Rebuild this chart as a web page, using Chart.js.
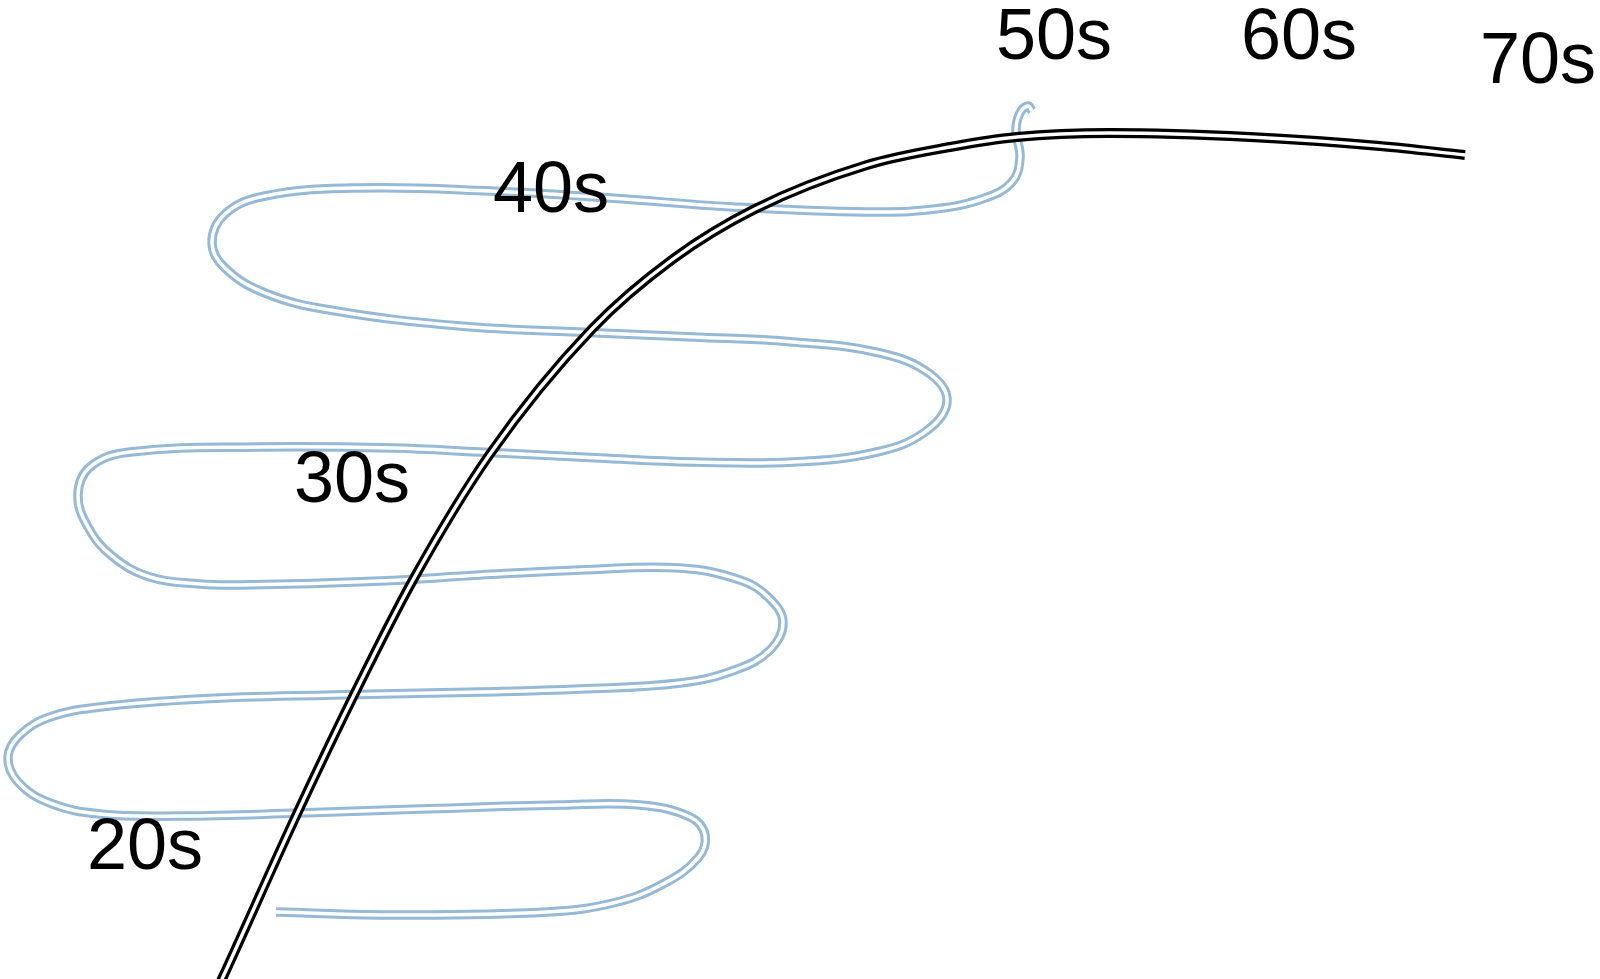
<!DOCTYPE html>
<html>
<head>
<meta charset="utf-8">
<script src="https://cdn.jsdelivr.net/npm/chart.js@4.4.1/dist/chart.umd.min.js"></script>
<style>
html,body{margin:0;padding:0;background:#fff;}
#wrap{width:1600px;height:979px;position:relative;}
</style>
</head>
<body>
<div id="wrap"><canvas id="c"></canvas></div>
<script>
// Light blue snaking path
const blueX = [27.6,40.0,54.7,61.3,66.3,69.8,70.5,69.0,64.0,56.0,42.0,30.0,18.0,10.0,5.0,1.8,0.8,2.0,5.0,10.0,20.0,33.3,48.0,58.0,68.0,73.5,77.0,78.3,76.8,74.0,68.0,58.0,48.0,38.0,24.0,20.0,15.0,11.2,8.8,7.8,9.0,13.0,26.0,39.3,48.0,60.0,69.3,79.3,87.7,92.5,94.7,93.0,88.0,79.3,69.3,60.0,46.0,33.0,26.5,22.5,21.2,22.5,26.5,35.7,49.0,61.0,73.3,86.7,93.5,98.5,101.2,102.0,101.6,102.0,102.8,103.2];
const blueY = [6.7,6.4,6.7,7.6,9.5,12.1,14.4,16.2,17.4,17.4,17.0,16.6,16.3,16.5,17.6,19.7,22.2,24.4,26.2,27.2,28.0,28.4,28.7,29.0,29.6,30.9,32.9,35.7,38.2,39.9,41.1,40.9,40.4,39.8,39.4,39.5,40.2,42.3,45.2,48.4,51.2,52.7,53.2,53.1,52.7,52.1,51.7,51.7,52.7,54.7,57.7,60.5,62.6,63.7,64.2,64.6,65.3,66.9,68.6,71.1,73.6,76.5,78.3,79.1,78.8,78.1,77.2,76.7,77.0,78.1,79.7,82.1,84.9,86.6,87.3,86.8];

// Black arching curve
const blackX = [21.4,22.2,29.6,35.2,41.3,49.0,59.2,67.3,75.5,86.7,95.0,101.7,111.0,125.0,138.0,146.5];
const blackY = [-1.7,0.0,16.3,28.0,39.9,52.5,65.0,72.0,77.0,81.4,83.2,84.2,84.6,84.2,83.3,82.4];

// Text labels
const labelText = ['20s','30s','40s','50s','60s','70s'];
const labelX = [14.5,35.2,55.1,105.4,129.9,153.8];
const labelY = [11.0,47.7,76.7,92.0,92.0,89.6];

const toPts = (xs, ys) => xs.map((x, i) => ({x: x, y: ys[i]}));
const bluePts = toPts(blueX, blueY);
const blackPts = toPts(blackX, blackY);

const BLUE = 'rgb(150,185,213)';

const labelPlugin = {
  id: 'labels',
  afterDatasetsDraw(chart) {
    const ctx = chart.ctx;
    const sx = chart.scales.x, sy = chart.scales.y;
    ctx.save();
    ctx.fillStyle = '#000';
    ctx.font = '72px "Liberation Sans", Arial, sans-serif';
    ctx.textAlign = 'center';
    ctx.textBaseline = 'alphabetic';
    labelText.forEach((t, i) => {
      ctx.fillText(t, sx.getPixelForValue(labelX[i]), sy.getPixelForValue(labelY[i]));
    });
    ctx.restore();
  }
};

const blueBase = {pointRadius: 0, pointHoverRadius: 0, fill: false, tension: 0.4,
              borderCapStyle: 'butt', borderJoinStyle: 'round', clip: false};
const blackBase = {pointRadius: 0, pointHoverRadius: 0, fill: false, cubicInterpolationMode: 'monotone',
              borderCapStyle: 'butt', borderJoinStyle: 'round', clip: false};

new Chart(document.getElementById('c'), {
  type: 'line',
  data: {
    datasets: [
      Object.assign({}, blueBase, {data: bluePts, borderColor: BLUE, borderWidth: 9.5, order: 4}),
      Object.assign({}, blueBase, {data: bluePts, borderColor: '#fff', borderWidth: 3.5, order: 3}),
      Object.assign({}, blackBase, {data: blackPts, borderColor: '#000', borderWidth: 10, order: 2}),
      Object.assign({}, blackBase, {data: blackPts, borderColor: '#fff', borderWidth: 3.4, order: 1})
    ]
  },
  options: {
    responsive: true,
    maintainAspectRatio: false,
    animation: false,
    layout: {padding: 0},
    plugins: {legend: {display: false}, tooltip: {enabled: false}},
    scales: {
      x: {type: 'linear', min: 0, max: 160, display: false},
      y: {type: 'linear', min: 0, max: 97.9, display: false}
    }
  },
  plugins: [labelPlugin]
});
</script>
</body>
</html>
